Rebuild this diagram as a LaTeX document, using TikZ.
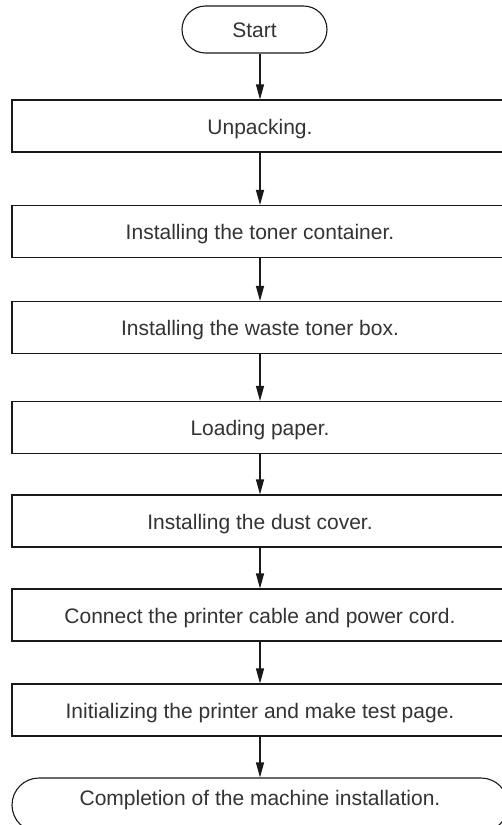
\documentclass[tikz,border=0pt]{standalone}
\usepackage{fontspec}
\setmainfont{Liberation Sans}
\usetikzlibrary{arrows.meta}
\definecolor{ink}{gray}{0.2}
\definecolor{edge}{gray}{0.1}
\tikzset{
  stepbox/.style={draw=edge, line width=1.1pt, rectangle, minimum width=496pt,
    inner xsep=0pt, inner ysep=0pt, text height=34pt, text depth=18pt,
    font=\fontsize{21}{25}\selectfont, text=ink},
  terminal/.style={draw=edge, line width=1.1pt, rectangle, rounded corners=#1,
    inner ysep=0pt, font=\fontsize{21}{25}\selectfont, text=ink},
  arr/.style={draw=edge, line width=1.1pt, -{Triangle[length=15pt,width=8pt]}}
}
\begin{document}
\begin{tikzpicture}[x=1pt, y=-1pt]
  \path[use as bounding box, clip] (0,0) rectangle (502,825);
  \fill[white] (0,0) rectangle (502,825);

  \node[terminal=23.5pt, minimum width=145pt, inner xsep=0pt,
        text height=31.5pt, text depth=15.5pt] (start) at (254.5,29.5) {Start};

  \node[stepbox] (b1) at (260,126)   {Unpacking.};
  \node[stepbox] (b2) at (260,231.5) {Installing the toner container.};
  \node[stepbox] (b3) at (260,327.5) {Installing the waste toner box.};
  \node[stepbox] (b4) at (260,427.5) {Loading paper.};
  \node[stepbox] (b5) at (260,521)   {Installing the dust cover.};
  \node[stepbox] (b6) at (260,615)   {Connect the printer cable and power cord.};
  \node[stepbox] (b7) at (260,710)   {Initializing the printer and make test page.};

  \node[terminal=27pt, minimum width=496pt, inner xsep=0pt,
        text height=27pt, text depth=27pt] (finish) at (260,805)
        {Completion of the machine installation.};

  \draw[arr] (start.south -| b1.north) -- (b1.north);
  \draw[arr] (b1) -- (b2);
  \draw[arr] (b2) -- (b3);
  \draw[arr] (b3) -- (b4);
  \draw[arr] (b4) -- (b5);
  \draw[arr] (b5) -- (b6);
  \draw[arr] (b6) -- (b7);
  \draw[arr] (b7) -- (finish);
\end{tikzpicture}
\end{document}
